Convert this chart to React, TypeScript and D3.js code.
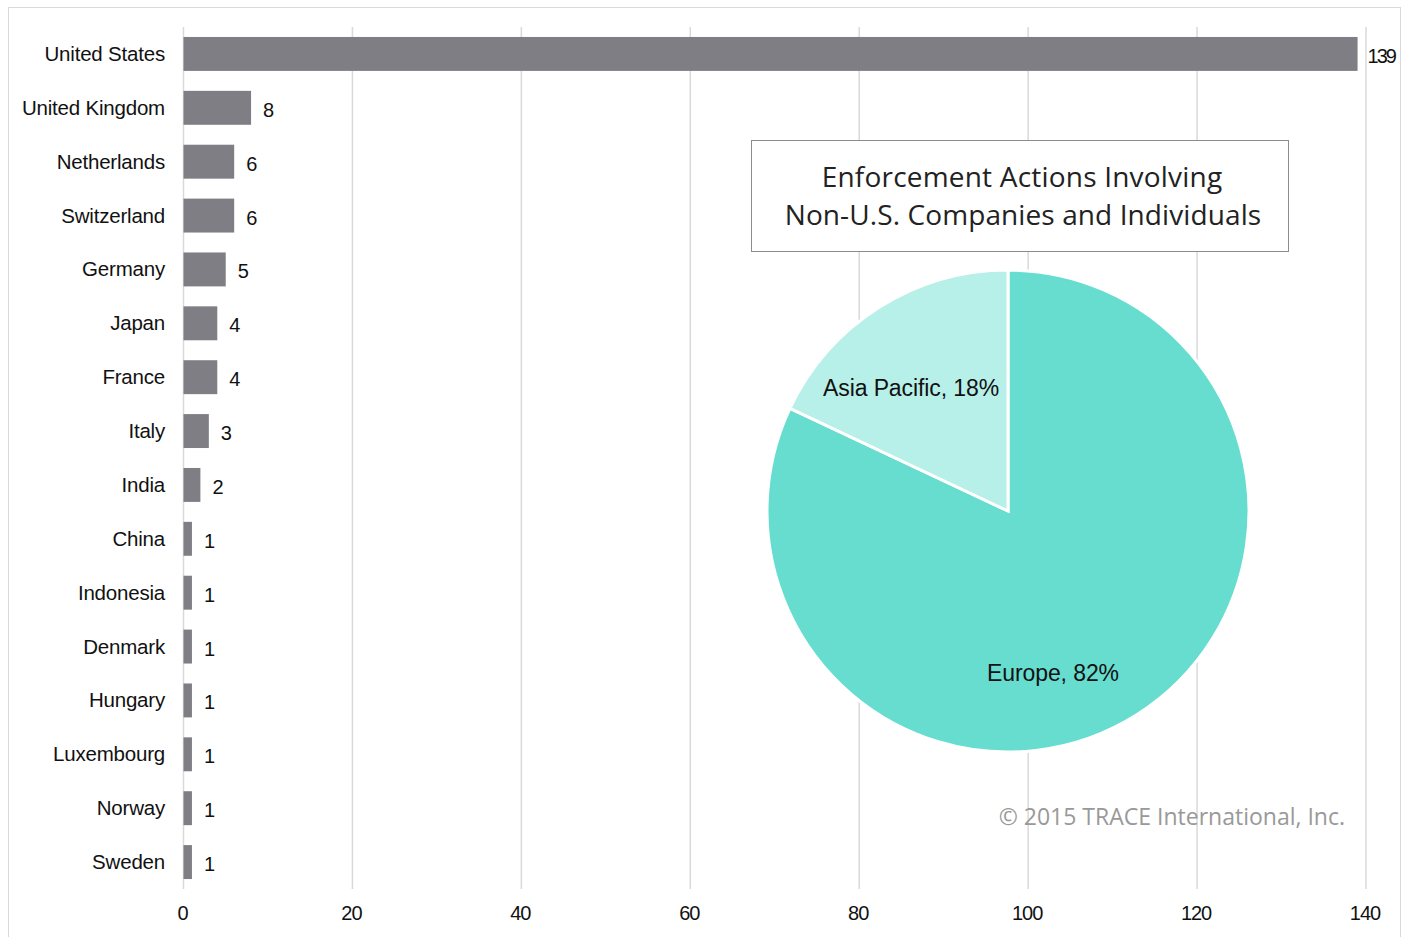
import React from "react";
import * as d3 from "d3";

const countries = ["United States","United Kingdom","Netherlands","Switzerland","Germany","Japan","France","Italy","India","China","Indonesia","Denmark","Hungary","Luxembourg","Norway","Sweden"];
const counts = [139,8,6,6,5,4,4,3,2,1,1,1,1,1,1,1];
const xTicks = [0,20,40,60,80,100,120,140];
const regions = ["Europe","Asia Pacific"];
const shares = [82,18];
const regionColors = ["#67ddd0","#b7efe9"];

export default function App() {
  const W = 1408, H = 937;
  const x = d3.scaleLinear().domain([0,140]).range([183.5,1366]);
  const y = d3.scaleBand().domain(countries).range([27,889]).paddingInner(0.37).paddingOuter(0.185);
  const cx = 1008, cy = 511, r = 241;
  const pie = d3.pie<number>().sort(null).value(d => d)(shares);
  const arc = d3.arc<d3.PieArcDatum<number>>().innerRadius(0).outerRadius(r);
  const labelFont = "'Liberation Sans', Arial, sans-serif";
  const titleFont = "'Open Sans', 'Noto Sans', sans-serif";
  const labelPos = [[1053,673],[911,388]];
  return (
    <svg width={W} height={H} style={{display:"block", position:"absolute", left:0, top:0}}>
      <rect x={0} y={0} width={W} height={H} fill="#fff" />
      <rect x={8.5} y={7.5} width={1392} height={940} fill="none" stroke="#d9d9d9" />
      {xTicks.map(t => (
        <g key={t}>
          <line x1={x(t)} x2={x(t)} y1={27} y2={889} stroke="#d9d9d9" strokeWidth={1.5} />
          <text x={x(t) - 1} y={920} textAnchor="middle" fontFamily={labelFont} fontSize={20} letterSpacing={-1} fill="#111">{t}</text>
        </g>
      ))}
      {countries.map((c,i) => (
        <g key={c}>
          <rect x={x(0)} y={y(c)!} width={x(counts[i]) - x(0)} height={y.bandwidth()} fill="#7f7e84" />
          <text x={165} y={y(c)! + y.bandwidth()/2 + 7} textAnchor="end" fontFamily={labelFont} fontSize={20.5} letterSpacing={-0.2} fill="#111">{c}</text>
          <text x={x(counts[i]) + (counts[i] > 100 ? 10 : 12)} y={y(c)! + y.bandwidth()/2 + 9} fontFamily={labelFont} fontSize={20} letterSpacing={counts[i] > 100 ? -2 : -0.5} fill="#111">{counts[i]}</text>
        </g>
      ))}
      <rect x={751.5} y={140.5} width={537} height={111} fill="#fff" stroke="#8c8c8c" strokeWidth={1} />
      <text x={1022} y={187} textAnchor="middle" fontFamily={titleFont} fontSize={28} letterSpacing={0.2} fill="#222">Enforcement Actions Involving</text>
      <text x={1023} y={225} textAnchor="middle" fontFamily={titleFont} fontSize={28} letterSpacing={0.1} fill="#222">Non-U.S. Companies and Individuals</text>
      <g transform={`translate(${cx},${cy})`}>
        {pie.map((p,i) => (
          <path key={i} d={arc(p)!} fill={regionColors[i]} stroke="#fff" strokeWidth={3} />
        ))}
      </g>
      {regions.map((rg,i) => (
        <text key={rg} x={labelPos[i][0]} y={labelPos[i][1] + 8} textAnchor="middle" fontFamily={labelFont} fontSize={23} letterSpacing={-0.1} fill="#111">{`${rg}, ${shares[i]}%`}</text>
      ))}
      <text x={1345} y={825} textAnchor="end" fontFamily={titleFont} fontSize={23} fill="#999">© 2015 TRACE International, Inc.</text>
    </svg>
  );
}
